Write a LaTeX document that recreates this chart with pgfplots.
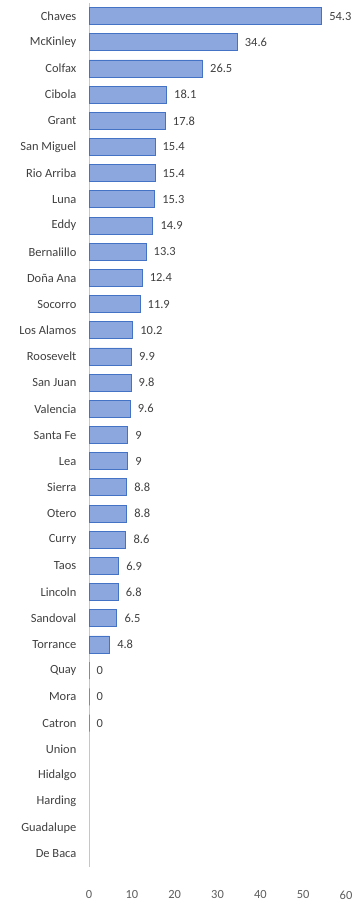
\documentclass[border=0pt]{standalone}
\usepackage{fontspec}
\setmainfont{Carlito}
\usepackage{pgfplots}
\pgfplotsset{compat=1.18}
\definecolor{barfill}{RGB}{140,166,222}
\definecolor{barline}{RGB}{68,114,196}
\definecolor{txt}{RGB}{64,64,64}
\begin{document}
\begin{tikzpicture}
\begin{axis}[
    scale only axis,
    width=257bp, height=864bp,
    xbar, bar width=17bp,
    xmin=0, xmax=60,
    ymin=-0.5, ymax=32.5,
    y dir=reverse,
    xtick={0,10,...,60},
    ytick={0,...,32},
    yticklabels={Chaves,McKinley,Colfax,Cibola,Grant,San Miguel,Rio Arriba,Luna,Eddy,Bernalillo,Doña Ana,Socorro,Los Alamos,Roosevelt,San Juan,Valencia,Santa Fe,Lea,Sierra,Otero,Curry,Taos,Lincoln,Sandoval,Torrance,Quay,Mora,Catron,Union,Hidalgo,Harding,Guadalupe,De Baca},
    axis lines=left,
    axis line style={-},
    x axis line style={draw=none},
    y axis line style={draw=gray!45, line width=0.75pt},
    tick style={draw=none},
    yticklabel style={font=\fontsize{12.5}{14}\selectfont, text=txt, xshift=-7bp},
    xticklabel style={font=\fontsize{12.5}{14}\selectfont, text=txt!85, yshift=-18bp},
    /pgf/number format/assume math mode=true,
    nodes near coords,
    nodes near coords style={font=\fontsize{12.5}{14}\selectfont, text=txt, xshift=4bp},
    clip=false,
]
\addplot[fill=barfill, draw=barline, line width=0.8pt] coordinates {
(54.3,0) (34.6,1) (26.5,2) (18.1,3) (17.8,4) (15.4,5) (15.4,6) (15.3,7)
(14.9,8) (13.3,9) (12.4,10) (11.9,11) (10.2,12) (9.9,13) (9.8,14) (9.6,15)
(9,16) (9,17) (8.8,18) (8.8,19) (8.6,20) (6.9,21) (6.8,22) (6.5,23)
(4.8,24) (0,25) (0,26) (0,27)
};
\end{axis}
\path[use as bounding box] (-89bp,-37bp) rectangle (269bp,867bp);
\end{tikzpicture}
\end{document}
